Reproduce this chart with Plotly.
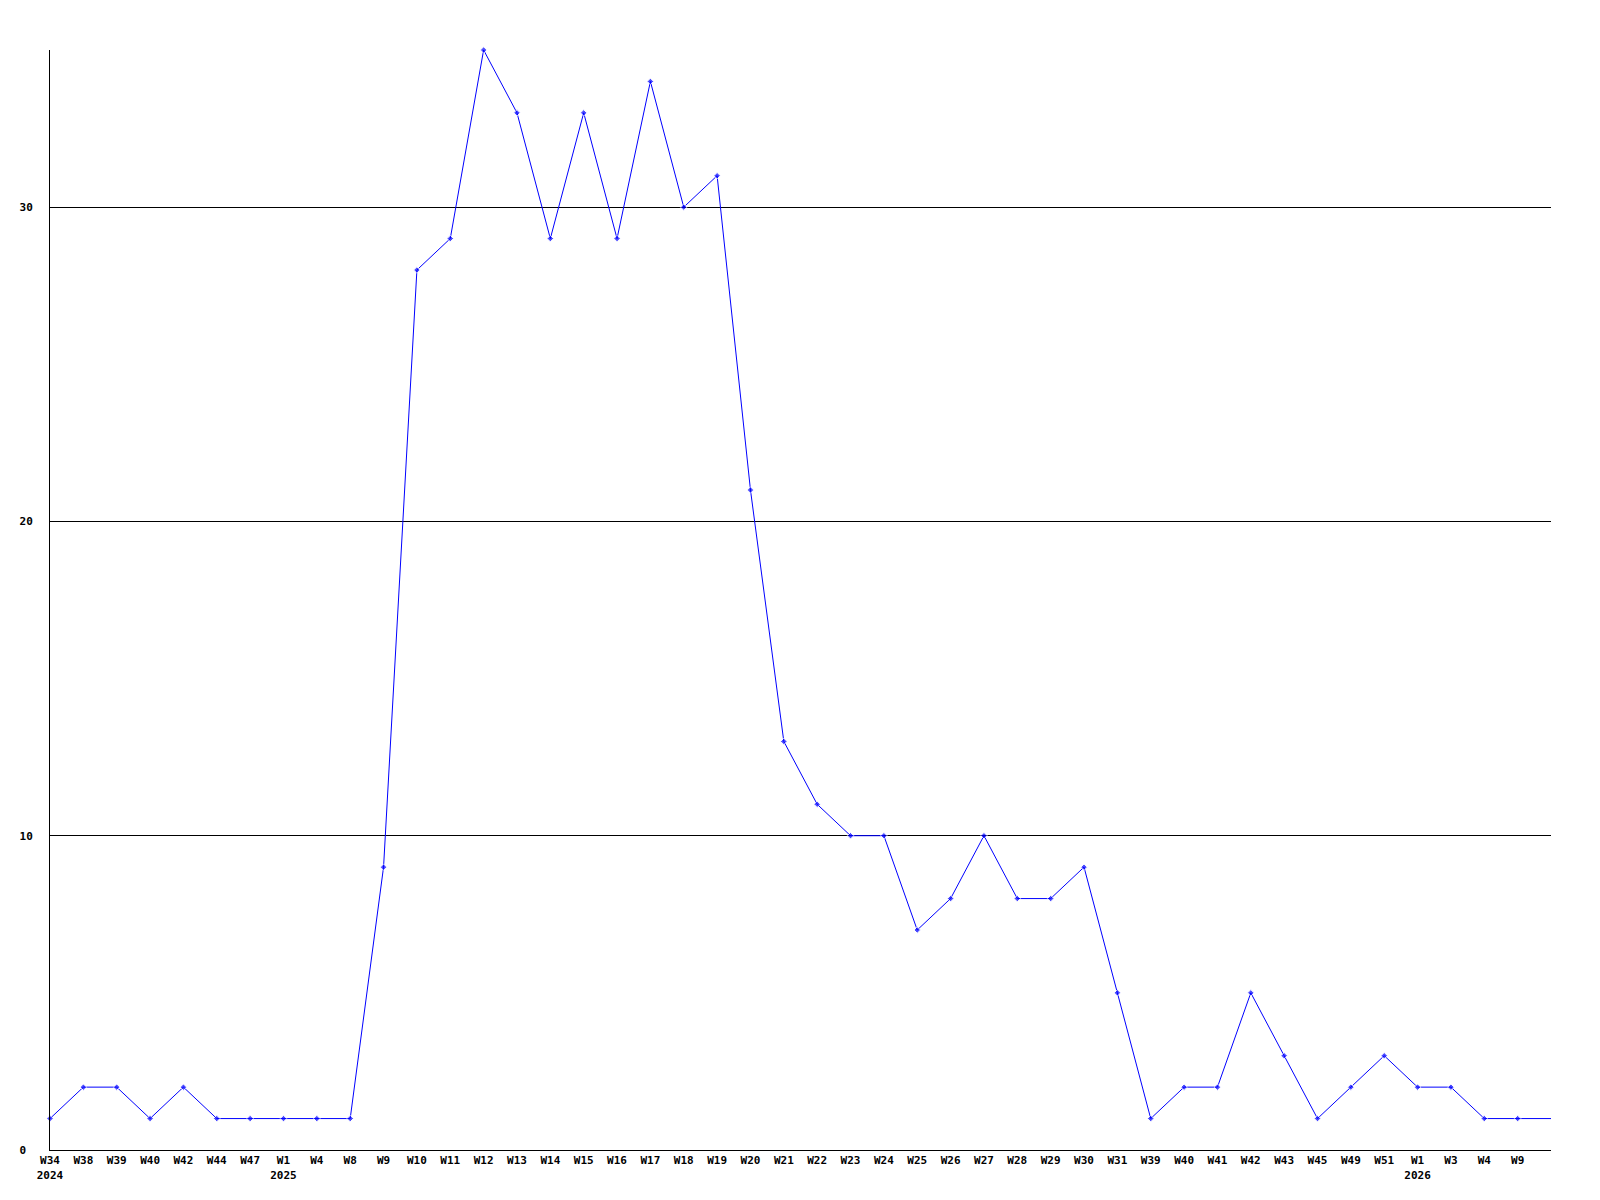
import plotly.graph_objects as go

weeks = ["W34", "W38", "W39", "W40", "W42", "W44", "W47", "W1", "W4", "W8",
         "W9", "W10", "W11", "W12", "W13", "W14", "W15", "W16", "W17", "W18",
         "W19", "W20", "W21", "W22", "W23", "W24", "W25", "W26", "W27", "W28",
         "W29", "W30", "W31", "W39", "W40", "W41", "W42", "W43", "W45", "W49",
         "W51", "W1", "W3", "W4", "W9", ""]
years = {0: "2024", 7: "2025", 41: "2026"}
values = [1, 2, 2, 1, 2, 1, 1, 1, 1, 1,
          9, 28, 29, 35, 33, 29, 33, 29, 34, 30,
          31, 21, 13, 11, 10, 10, 7, 8, 10, 8,
          8, 9, 5, 1, 2, 2, 5, 3, 1, 2,
          3, 2, 2, 1, 1, 1]
y_ticks = [0, 10, 20, 30]
y_ticktext = ["0\u00a0", "10", "20", "30"]

x = list(range(len(weeks)))
ticktext = [w + ("<br>" + years[i] if i in years else "") for i, w in enumerate(weeks)]
marker_sizes = [5] * (len(weeks) - 1) + [0]

fig = go.Figure()
fig.add_trace(go.Scatter(
    x=x, y=values, mode="lines+markers",
    line=dict(color="#0000ff", width=1),
    marker=dict(symbol="diamond", size=marker_sizes, color="#0000ff"),
    cliponaxis=False, showlegend=False,
))

font = dict(family="DejaVu Sans Mono", size=11, color="black", weight="bold")
fig.update_layout(
    width=1600, height=1200,
    margin=dict(l=42, r=57, t=42, b=58),
    paper_bgcolor="white", plot_bgcolor="white",
    font=font,
)
fig.update_xaxes(
    range=[0, len(weeks) - 1], tickmode="array", tickvals=x, ticktext=ticktext,
    tickangle=0, showgrid=False, zeroline=False, showline=True,
    linecolor="black", linewidth=1, ticks="", tickfont=font,
)
fig.update_yaxes(
    range=[0, 35], tickmode="array", tickvals=y_ticks, ticktext=y_ticktext,
    showgrid=True, gridcolor="black", gridwidth=1, zeroline=False,
    showline=True, linecolor="black", linewidth=1, ticks="",
    ticklabelstandoff=14, tickfont=font,
)

fig.write_html("out.html")
